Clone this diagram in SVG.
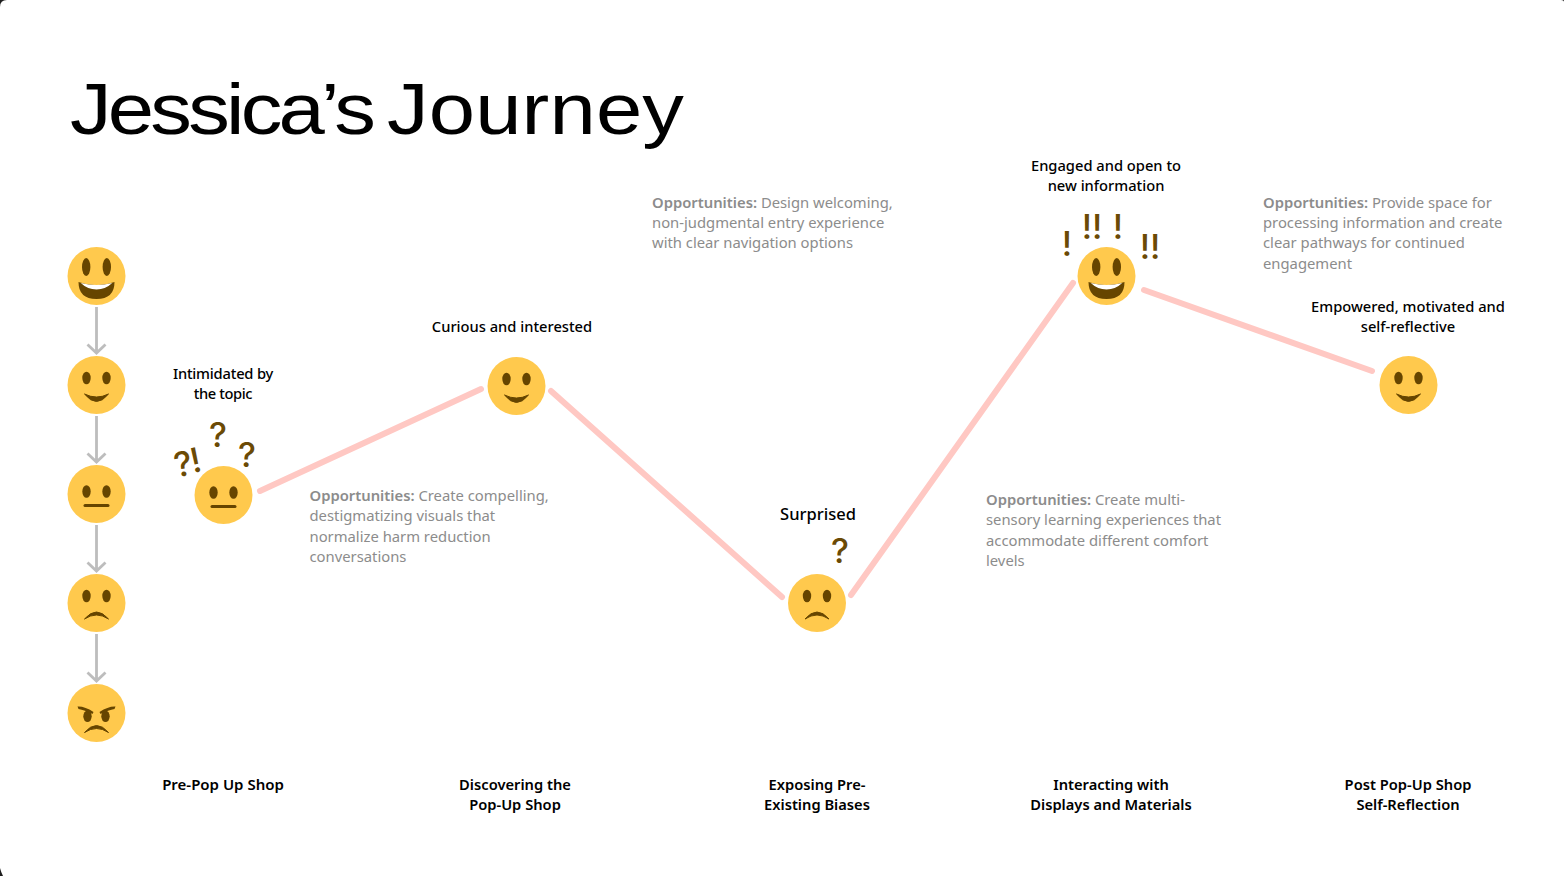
<svg xmlns="http://www.w3.org/2000/svg" width="1564" height="876" viewBox="0 0 1564 876">
<style>
.t{font-family:"Noto Sans",sans-serif;font-size:14.7px;font-weight:500;fill:#000;text-anchor:middle}
.b2{font-weight:600}
.o{font-family:"Noto Sans",sans-serif;font-size:14.8px;fill:#8c8c8c;}
.o tspan.b{font-weight:600}
.m{font-family:Inter,sans-serif;font-size:34px;font-weight:500;fill:#6b4a05;text-anchor:middle}
.c{stroke:#ffc8c3;stroke-width:6;stroke-linecap:round;fill:none}
.a{stroke:#bdbdbd;stroke-width:2.800;fill:none}
.e{fill:#664500}
.f{fill:#ffc94d}
</style>
<defs>
<g id="grin"><circle class="f" r="29"/><ellipse class="e" cx="-10.300" cy="-9" rx="4.200" ry="9"/><ellipse class="e" cx="10.300" cy="-9" rx="4.200" ry="9"/><path class="e" d="M-18 6Q0 12.600 18 6Q18 23 0 23Q-18 23-18 6Z"/><path fill="#fff" d="M-15.700 7Q0 11 15.700 7Q9 13.500 0 13.500Q-9 13.500-15.700 7Z"/></g>
<g id="smile"><circle class="f" r="29"/><ellipse class="e" cx="-10" cy="-7" rx="4.200" ry="6.300"/><ellipse class="e" cx="10" cy="-7" rx="4.200" ry="6.300"/><path class="e" stroke="#664500" stroke-width="1" stroke-linejoin="round" d="M-12 9Q0 15 12 9Q0 24-12 9Z"/></g>
<g id="neutral"><circle class="f" r="29"/><ellipse class="e" cx="-10" cy="-2.500" rx="4.200" ry="6.300"/><ellipse class="e" cx="10" cy="-2.500" rx="4.200" ry="6.300"/><rect class="e" x="-13" y="10" width="26" height="3" rx="1.500"/></g>
<g id="frown"><circle class="f" r="29"/><ellipse class="e" cx="-10" cy="-7" rx="4.200" ry="6.300"/><ellipse class="e" cx="10" cy="-7" rx="4.200" ry="6.300"/><path class="e" stroke="#664500" stroke-width="1" stroke-linejoin="round" d="M-12 16Q0 2 12 16Q0 8-12 16Z"/></g>
<g id="angry"><circle class="f" r="29"/><ellipse class="e" cx="-9" cy="3.300" rx="4.200" ry="5.800"/><ellipse class="e" cx="9" cy="3.300" rx="4.200" ry="5.800"/><path class="e" d="M-19-6.500Q-12-7-3-1L-4 1Q-12-3-18-4Z"/><path class="e" d="M19-6.500Q12-7 3-1L4 1Q12-3 18-4Z"/><path class="e" stroke="#664500" stroke-width="1" stroke-linejoin="round" d="M-12 19.500Q0 5.500 12 19.500Q0 11.500-12 19.500Z"/></g>
</defs>
<rect width="1564" height="876" fill="#1e1e1e"/>
<path d="M7 0H1561Q1564 0 1564 2V876H3Q1 872 0 868V7Q0 0 7 0Z" fill="#fff"/>
<text id="title" transform="translate(70 134) scale(1.14 1)" font-family="Liberation Sans, Arial, sans-serif" font-size="73" fill="#000"><tspan letter-spacing="-3.300">Jessica’s </tspan><tspan x="278" letter-spacing="0.150">Journey</tspan></text>
<g id="connectors">
<path class="c" d="M260 491L481 389"/><path class="c" d="M551 391L782 597"/><path class="c" d="M851 595L1073 283"/><path class="c" d="M1144 290L1372 371"/>
<path class="a" d="M96.500 307V353M87.500 344.500L96.500 353L105.500 344.500"/>
<path class="a" d="M96.500 416V462M87.500 453.500L96.500 462L105.500 453.500"/>
<path class="a" d="M96.500 525V571M87.500 562.500L96.500 571L105.500 562.500"/>
<path class="a" d="M96.500 634V681M87.500 672.500L96.500 681L105.500 672.500"/>
</g>
<g id="scale-grin"><use href="#grin" x="96.500" y="276"/></g>
<g id="scale-smile"><use href="#smile" x="96.500" y="385"/></g>
<g id="scale-neutral"><use href="#neutral" x="96.500" y="494"/></g>
<g id="scale-frown"><use href="#frown" x="96.500" y="603"/></g>
<g id="scale-angry"><use href="#angry" x="96.500" y="713"/></g>
<g id="step1"><use href="#neutral" x="223.500" y="495"/>
<text class="t" x="223" y="379" letter-spacing="-0.200">Intimidated by</text><text class="t" x="223" y="399" letter-spacing="-0.400">the topic</text>
<text class="m" x="218" y="447">?</text><text class="m" x="247" y="467">?</text><text class="m" transform="translate(185 476) rotate(-10)">?</text><text class="m" transform="translate(198 472) rotate(-12)">!</text>
<text class="t b2" x="223" y="790" style="font-size:15px">Pre-Pop Up Shop</text>
<text class="o" x="309.500" y="501"><tspan class="b">Opportunities:</tspan> Create compelling,</text><text class="o" x="309.500" y="521">destigmatizing visuals that</text><text class="o" x="309.500" y="542">normalize harm reduction</text><text class="o" x="309.500" y="562">conversations</text></g>
<g id="step2"><use href="#smile" x="516.500" y="386"/>
<text class="t" x="512" y="332">Curious and interested</text>
<text class="t b2" x="515" y="790">Discovering the</text><text class="t b2" x="515" y="810">Pop-Up Shop</text></g>
<g id="step3"><use href="#frown" x="817" y="603"/>
<text class="t" x="818" y="520" style="font-size:16.500px">Surprised</text><text class="m" x="840" y="563">?</text>
<text class="t b2" x="817" y="790">Exposing Pre-</text><text class="t b2" x="817" y="810">Existing Biases</text>
<text class="o" x="652" y="208"><tspan class="b">Opportunities:</tspan> Design welcoming,</text><text class="o" x="652" y="228">non-judgmental entry experience</text><text class="o" x="652" y="248">with clear navigation options</text></g>
<g id="step4"><use href="#grin" x="1106.500" y="276"/>
<text class="t" x="1106" y="171">Engaged and open to</text><text class="t" x="1106" y="191">new information</text>
<text class="m" x="1067" y="256">!</text><text class="m" x="1092" y="239">!!</text><text class="m" x="1118" y="239">!</text><text class="m" x="1150" y="259">!!</text>
<text class="t b2" x="1111" y="790">Interacting with</text><text class="t b2" x="1111" y="810">Displays and Materials</text>
<text class="o" x="986" y="505"><tspan class="b">Opportunities:</tspan> Create multi-</text><text class="o" x="986" y="525">sensory learning experiences that</text><text class="o" x="986" y="546">accommodate different comfort</text><text class="o" x="986" y="566">levels</text></g>
<g id="step5"><use href="#smile" x="1408.500" y="385"/>
<text class="t" x="1408" y="312">Empowered, motivated and</text><text class="t" x="1408" y="332">self-reflective</text>
<text class="t b2" x="1408" y="790">Post Pop-Up Shop</text><text class="t b2" x="1408" y="810">Self-Reflection</text>
<text class="o" x="1263" y="208"><tspan class="b">Opportunities:</tspan> Provide space for</text><text class="o" x="1263" y="228">processing information and create</text><text class="o" x="1263" y="248">clear pathways for continued</text><text class="o" x="1263" y="269">engagement</text></g>
</svg>
